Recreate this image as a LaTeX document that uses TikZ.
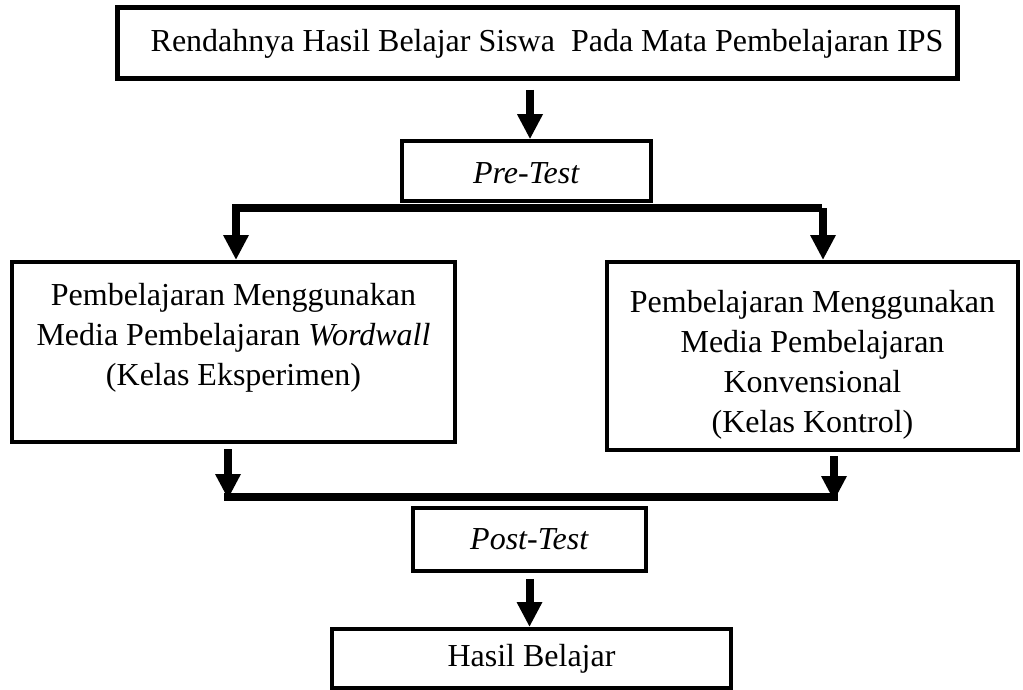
\documentclass[tikz,border=0pt]{standalone}
\usepackage{fontspec}
\setmainfont{Liberation Serif}
\usetikzlibrary{arrows.meta}
\begin{document}
\begin{tikzpicture}[x=1pt,y=-1pt,
  box/.style={draw, line width=4pt, inner sep=0pt, align=center,
    font=\fontsize{32}{40}\selectfont},
  arr/.style={line width=8pt, -{Triangle[width=24pt,length=25pt]}},
  bar/.style={line width=8pt, line cap=rect}]
\useasboundingbox (0,0) rectangle (1023,690);

\node[box, line width=5pt, minimum width=840pt, minimum height=71pt] (top) at (537,43.5)
  {\hspace*{20pt}Rendahnya Hasil Belajar Siswa\ \ Pada Mata Pembelajaran IPS};
\node[box, line width=3.5pt, minimum width=249pt, minimum height=60pt] (pre) at (526.5,171)
  {\rule{0pt}{26pt}\textit{Pre-Test}};
\node[box, minimum width=443pt, minimum height=180pt] (left) at (233.5,352)
  {\rule{0pt}{38pt}Pembelajaran Menggunakan\\Media Pembelajaran \textit{Wordwall}\\(Kelas Eksperimen)\\\strut};
\node[box, minimum width=411pt, minimum height=188pt] (right) at (812.5,356)
  {\rule{0pt}{40pt}Pembelajaran Menggunakan\\Media Pembelajaran\\Konvensional\\(Kelas Kontrol)};
\node[box, line width=3.5pt, minimum width=233pt, minimum height=63pt] (post) at (529.5,539.5)
  {\textit{Post-Test}};
\node[box, minimum width=399pt, minimum height=59pt] (hasil) at (531.5,658.5)
  {Hasil Belajar};

% top -> pre
\coordinate (a1) at (530,90);
\draw[arr] (a1) -- (a1 |- pre.north);

% split
\coordinate (sl) at (236,208);
\coordinate (sr) at (818,208);
\draw[bar] (sl) -- (sr);
\draw[arr] (sl) -- (sl |- left.north);
\coordinate (sr2) at (823,208);
\draw[arr] (sr2) -- (sr2 |- right.north);

% merge
\coordinate (ml) at (228,497);
\coordinate (mr) at (834,497);
\draw[bar] (ml) -- (mr);
\draw[arr, shorten <=5pt] (ml |- left.south) -- ([yshift=-2pt]ml);
\draw[arr, shorten <=4pt] (mr |- right.south) -- ([yshift=-4pt]mr);

% post -> hasil
\draw[arr, shorten <=6pt] (post.south) -- (post.south |- hasil.north);
\end{tikzpicture}
\end{document}
